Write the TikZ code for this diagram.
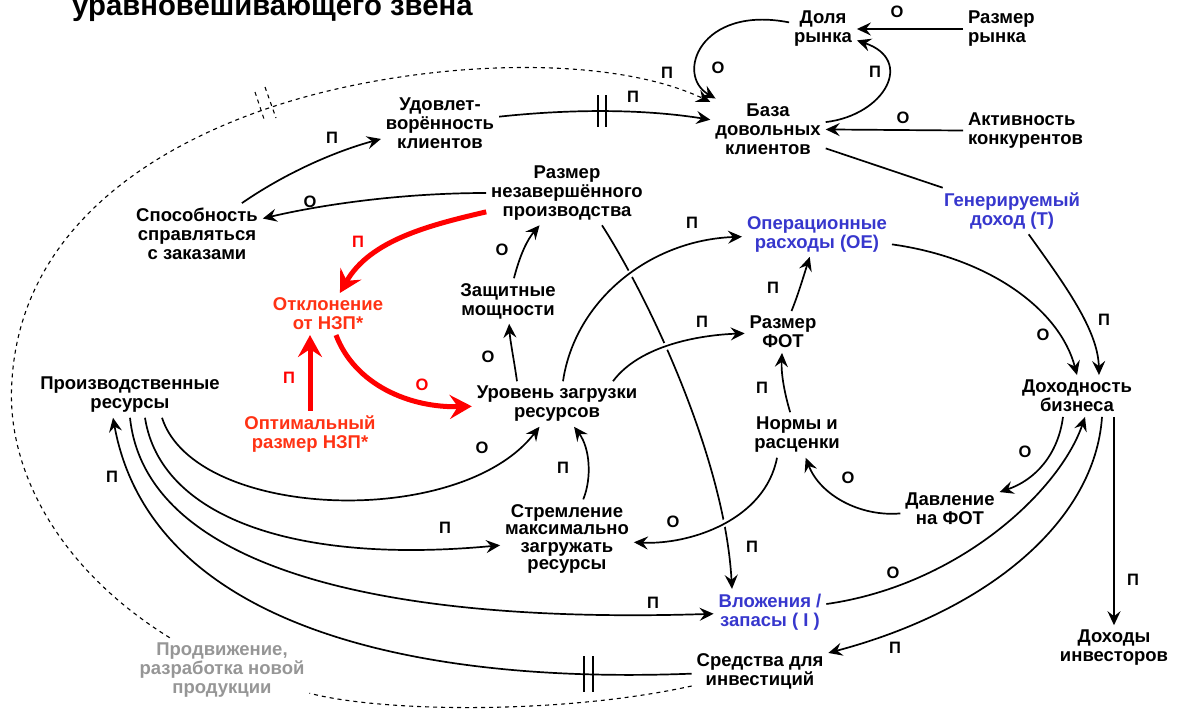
\documentclass[tikz,border=0pt]{standalone}
\usepackage{fontspec}
\setmainfont{Liberation Sans}
\usetikzlibrary{arrows.meta}

\definecolor{tocblue}{RGB}{55,55,205}
\definecolor{nzpred}{RGB}{255,50,20}
\definecolor{promogray}{RGB}{150,150,150}

\tikzset{
  var/.style={font=\bfseries\fontsize{18.5}{19}\selectfont, align=center, inner sep=1pt, outer sep=4pt},
  tocvar/.style={var, text=tocblue},
  nzpvar/.style={var, text=nzpred},
  sign/.style={font=\bfseries\fontsize{16.5}{18}\selectfont, inner sep=0pt},
  link/.style={line width=1.7pt, -{Stealth[length=14pt,width=13pt,inset=5pt]}},
  plain link/.style={line width=1.7pt},
  red link/.style={line width=5pt, red, -{Stealth[length=22pt,width=24pt,inset=8pt]}},
  dashed link/.style={line width=1.1pt, dash pattern=on 4pt off 4pt},
  halo/.style={preaction={draw, white, line width=7pt, -}},
}

\begin{document}
\begin{tikzpicture}[x=1pt, y=-1pt]
\useasboundingbox (0,0) rectangle (1181,720);

% title, cut at the top edge
\node[anchor=base west, font=\bfseries\fontsize{29.3}{32}\selectfont, inner sep=0pt] (title) at (72,15) {уравновешивающего звена};

% variables
\node[var] (dolya) at (823,29) {Доля\\рынка};
\node[var, align=left, anchor=west] (rrynka) at (963,29) {Размер\\рынка};
\node[var] (baza) at (768,129) {База\\довольных\\клиентов};
\node[var, align=left, anchor=west] (aktiv) at (963,131) {Активность\\конкурентов};
\node[var] (udov) at (440,123) {Удовлет-\\ворённость\\клиентов};
\node[var] (nzp) at (567,193) {Размер\\незавершённого\\производства};
\node[var] (spos) at (197,234) {Способность\\справляться\\с заказами};
\node[tocvar] (gendox) at (1012,211) {Генерируемый\\доход (Т)};
\node[tocvar] (oe) at (817,234) {Операционные\\расходы (ОЕ)};
\node[nzpvar] (otkl) at (328,314) {Отклонение\\от НЗП*};
\node[var] (zasch) at (508,301) {Защитные\\мощности};
\node[var] (fot) at (783,332) {Размер\\ФОТ};
\node[var] (prres) at (130,395) {Производственные\\ресурсы};
\node[var] (uroven) at (557,404) {Уровень загрузки\\ресурсов};
\node[var] (dohodn) at (1077,396) {Доходность\\бизнеса};
\node[nzpvar] (optim) at (310,434) {Оптимальный\\размер НЗП*};
\node[var] (normy) at (797,435) {Нормы и\\расценки};
\node[var] (davl) at (950,509) {Давление\\на ФОТ};
\node[var, font=\bfseries\fontsize{18.5}{17.5}\selectfont] (strem) at (567,539) {Стремление\\максимально\\загружать\\ресурсы};
\node[tocvar] (vlozh) at (770,612) {Вложения /\\запасы ( I )};
\node[var] (dinv) at (1114,648) {Доходы\\инвесторов};
\node[var] (sredstva) at (760,671) {Средства для\\инвестиций};
\node[var, text=promogray] (prodv) at (222,670) {Продвижение,\\разработка новой\\продукции};

% market share loop
\draw[link] (rrynka.west) -- (dolya.east |- rrynka.west);
\draw[link] (dolya) .. controls (700,5) and (675,75) .. (baza);
\draw[link] (baza) .. controls (885,115) and (915,60) .. (dolya);
\draw[link] (aktiv) -- (baza);

% satisfaction, with delay
\draw[link] (udov) .. controls (580,108) and (650,110) .. (baza) coordinate[pos=0.45] (udovbar);
\draw[line width=1.7pt] (udovbar) ++(-4,-16) -- ++(0,32) (udovbar) ++(4,-16) -- ++(0,32);

% promotion loop (dashed)
\draw[dashed link] (sredstva) .. controls (560,715) and (380,712) .. (prodv);
\draw[dashed link, -{Stealth[length=14pt,width=13pt,inset=5pt]}] (prodv) .. controls (60,570) and (5,470) .. (12,380)
  .. controls (20,250) and (120,160) .. (263,110) coordinate (dashbar)
  .. controls (400,62) and (600,50) .. (baza);
\draw[dashed link] (dashbar) ++(-8,-18) -- ++(10,30) (dashbar) ++(2,-23) -- ++(11,31);

% resources
\draw[link] (sredstva) .. controls (400,685) and (150,620) .. ([xshift=-17pt]prres.south) coordinate[pos=0.12] (sredbar);
\draw[line width=1.7pt] (sredbar) ++(-4.5,-18) -- ++(0,36) (sredbar) ++(4.5,-18) -- ++(0,36);
\draw[link] (prres.south) .. controls (145,560) and (360,625) .. (vlozh);
\draw[link] ([xshift=15pt]prres.south) .. controls (160,515) and (290,565) .. (strem);
\draw[link] ([xshift=32pt]prres.south) .. controls (195,520) and (460,530) .. (uroven);

\draw[link] (spos) .. controls (290,170) and (340,150) .. (udov);
\draw[link] (nzp) .. controls (400,193) and (320,205) .. (spos);

% WIP balancing loop
\draw[red link] (nzp) .. controls (430,225) and (370,240) .. (otkl);
\draw[red link] (optim.north) -- (optim.north |- otkl.south);
\draw[red link] (otkl) .. controls (355,385) and (410,408) .. (uroven);

\draw[link] (zasch) .. controls (520,255) and (527,240) .. (nzp);
\draw[link] ([xshift=-40pt]uroven.north) .. controls (514,360) and (510,340) .. (zasch);
\draw[link] ([xshift=35pt]nzp.south) .. controls (650,300) and (725,460) .. ([xshift=-38pt]vlozh.north);
\draw[link, halo] ([xshift=6pt]uroven.north) .. controls (575,300) and (650,240) .. (oe);
\draw[link, halo] ([xshift=56pt]uroven.north) .. controls (640,345) and (700,335) .. (fot);

% payroll
\draw[link] (fot) .. controls (798,295) and (803,278) .. (oe);
\draw[link] (normy) .. controls (785,395) and (781,375) .. (fot);
\draw[link] (davl) .. controls (860,517) and (820,495) .. (normy);
\draw[link, halo] ([xshift=-20pt]normy.south) .. controls (765,520) and (690,545) .. (strem);
\draw[link] (strem) .. controls (592,478) and (590,448) .. (uroven);

% profitability
\draw[plain link] (baza) -- (gendox);
\draw[link] (gendox) .. controls (1065,285) and (1098,330) .. ([xshift=22pt]dohodn.north);
\draw[link] (oe) .. controls (990,258) and (1060,310) .. (dohodn.north);
\draw[link] ([xshift=-14pt]dohodn.south) .. controls (1058,455) and (1035,480) .. (davl);
\draw[link] (vlozh) .. controls (960,585) and (1060,490) .. ([xshift=8pt]dohodn.south);
\draw[link] ([xshift=25pt]dohodn.south) .. controls (1095,520) and (990,610) .. (sredstva);
\draw[link] (dinv.north |- dohodn.south) -- (dinv.north);

% signs
\node[sign] (s-rr) at (897,12) {О};
\node[sign] (s-dol) at (718,68) {О};
\node[sign] (s-baz) at (875,72) {П};
\node[sign] (s-akt) at (903,118) {О};
\node[sign] (s-udov) at (633,97) {П};
\node[sign] (s-prodv) at (667,73) {П};
\node[sign] (s-spos) at (332,138) {П};
\node[sign] (s-nzp) at (310,202) {О};
\node[sign, text=red] (s-otkl) at (358,242) {П};
\node[sign, text=red] (s-optim) at (289,378) {П};
\node[sign, text=red] (s-urov) at (422,385) {О};
\node[sign] (s-zasch) at (502,250) {О};
\node[sign] (s-urzas) at (488,357) {О};
\node[sign] (s-uroe) at (692,223) {П};
\node[sign] (s-urfot) at (702,322) {П};
\node[sign] (s-fotoe) at (773,288) {П};
\node[sign] (s-normfot) at (762,388) {П};
\node[sign] (s-davl) at (848,478) {О};
\node[sign] (s-normstr) at (673,522) {О};
\node[sign] (s-strur) at (563,468) {П};
\node[sign] (s-nzpvl) at (752,547) {П};
\node[sign] (s-prur) at (482,448) {О};
\node[sign] (s-prstr) at (445,528) {П};
\node[sign] (s-prvl) at (653,603) {П};
\node[sign] (s-srpr) at (112,477) {П};
\node[sign] (s-gen) at (1104,320) {П};
\node[sign] (s-oe) at (1043,335) {О};
\node[sign] (s-dohdavl) at (1025,452) {О};
\node[sign] (s-vldoh) at (893,573) {О};
\node[sign] (s-dohsr) at (895,648) {П};
\node[sign] (s-dinv) at (1133,580) {П};
\end{tikzpicture}
\end{document}
